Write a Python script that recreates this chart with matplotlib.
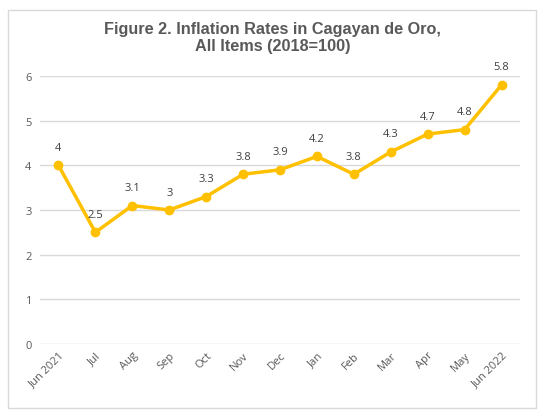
import matplotlib
matplotlib.use("Agg")
import matplotlib.pyplot as plt
from matplotlib.patches import Rectangle

months = ["Jun 2021", "Jul", "Aug", "Sep", "Oct", "Nov", "Dec", "Jan", "Feb", "Mar", "Apr", "May", "Jun 2022"]
rates = [4, 2.5, 3.1, 3, 3.3, 3.8, 3.9, 4.2, 3.8, 4.3, 4.7, 4.8, 5.8]
yticks = [0, 1, 2, 3, 4, 5, 6]

fig = plt.figure(figsize=(5.45, 4.14), dpi=100)
fig.patches.append(Rectangle((8/545, 1-409/414), 528/545, 398/414, transform=fig.transFigure,
                             fill=False, edgecolor="#D9D9D9", linewidth=1.0))
ax = fig.add_axes([40/545, (414-345)/414, 480/545, (345-77)/414])
x = list(range(len(months)))
ax.plot(x, rates, color="#FFC000", linewidth=2.5, marker="o", markersize=6, zorder=3)
for xi, v in zip(x, rates):
    ax.annotate(f"{v:g}", (xi, v), xytext=(0, 9), textcoords="offset points", ha="center",
                va="bottom", fontsize=8, color="#404040", family="Open Sans")
ax.set_xlim(-0.5, 12.5)
ax.set_ylim(0, 6)
ax.set_yticks(yticks)
ax.set_yticklabels([str(t) for t in yticks], family="Open Sans", fontsize=8, color="#595959")
ax.set_xticks(x)
ax.set_xticklabels(months, rotation=45, ha="right", rotation_mode="anchor", family="Open Sans",
                   fontsize=8, color="#595959")
ax.grid(axis="y", color="#D9D9D9", linewidth=1)
ax.set_axisbelow(True)
for s in ax.spines.values():
    s.set_visible(False)
ax.tick_params(length=0, pad=6)
ax.tick_params(axis="x", pad=4)
fig.text(0.5, 1-38/414, "Figure 2. Inflation Rates in Cagayan de Oro,\nAll Items (2018=100)",
         ha="center", va="center", family="Liberation Sans", fontweight="bold", fontsize=11.7,
         color="#595959", linespacing=1.15)
fig.savefig("out.png", dpi=100)
